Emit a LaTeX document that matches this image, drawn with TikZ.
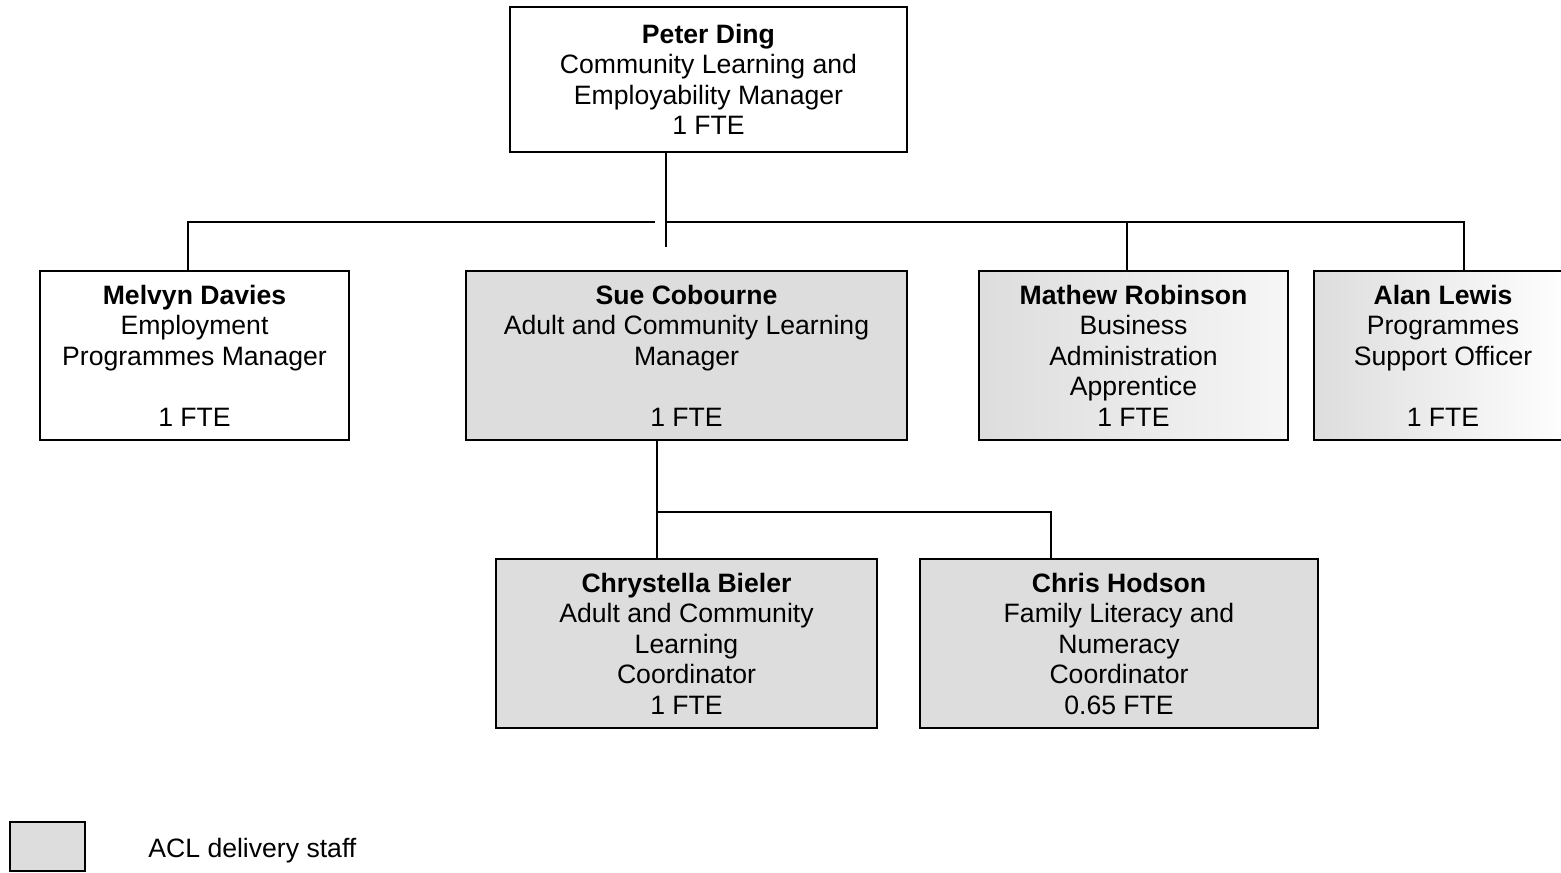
\documentclass[tikz,border=0pt]{standalone}
\usepackage{fontspec}
\setmainfont{Liberation Sans}
\usepackage{tikz}
\usetikzlibrary{positioning}
\definecolor{aclgrey}{HTML}{DDDDDD}
\definecolor{aclfade}{HTML}{F6F6F6}

\tikzset{
  post/.style={draw,line width=1pt,align=center,inner sep=0pt,
    minimum height=84.5pt,font=\fontsize{13.3}{15.25}\selectfont},
  delivery/.style={post,fill=aclgrey},
  link/.style={line width=1pt}
}

\begin{document}
\begin{tikzpicture}[x=0.5pt,y=-0.5pt]
  \useasboundingbox (0,0) rectangle (1561,872);
  % top manager
  \node[post,minimum width=198.5pt,minimum height=72.5pt] (peter) at (708.5,79.5)
    {\textbf{Peter Ding}\\Community Learning and\\Employability Manager\\1 FTE};
  % second row
  \node[post,minimum width=154.5pt] (melvyn) at (194.5,355.5)
    {\textbf{Melvyn Davies}\\Employment\\Programmes Manager\\[15.25pt]1 FTE};
  \node[delivery,minimum width=220.5pt] (sue) at (686.5,355.5)
    {\textbf{Sue Cobourne}\\Adult and Community Learning\\Manager\\[15.25pt]1 FTE};
  \node[post,left color=aclgrey,right color=aclfade,minimum width=154.5pt] (mathew) at (1133.5,355.5)
    {\textbf{Mathew Robinson}\\Business\\Administration\\Apprentice\\1 FTE};
  \node[post,left color=aclgrey,right color=white,minimum width=129pt] (alan) at (1443,355.5)
    {\textbf{Alan Lewis}\\Programmes\\Support Officer\\[15.25pt]1 FTE};
  % third row
  \node[delivery,minimum width=190.5pt] (chrys) at (686.5,643.5)
    {\textbf{Chrystella Bieler}\\Adult and Community\\Learning\\Coordinator\\1 FTE};
  \node[delivery,minimum width=199pt] (chris) at (1119,643.5)
    {\textbf{Chris Hodson}\\Family Literacy and\\Numeracy\\Coordinator\\0.65 FTE};

  % connectors
  \coordinate (split) at (666,222);
  \coordinate (splitL) at (655,222);
  \coordinate (stub) at (666,247);
  \coordinate (fork) at (657,512);
  \draw[link] (peter.south -| split) -- (stub);
  \draw[link] (splitL) -| ([xshift=-3.25pt]melvyn.north);
  \draw[link] ([xshift=-3.25pt]mathew.north) |- (split);
  \draw[link] (split) -| ([xshift=10.5pt]alan.north);
  \draw[link] ([xshift=-14.75pt]sue.south) -- ([xshift=-14.75pt]chrys.north);
  \draw[link] (fork) -| ([xshift=-34pt]chris.north);

  % legend
  \node[delivery,minimum width=37.5pt,minimum height=24.5pt] (key) at (47.5,846.5) {};
  \node[font=\fontsize{13.3}{15.25}\selectfont,anchor=west,inner sep=0pt] (keytext) at (148,851) {ACL delivery staff};
\end{tikzpicture}
\end{document}
